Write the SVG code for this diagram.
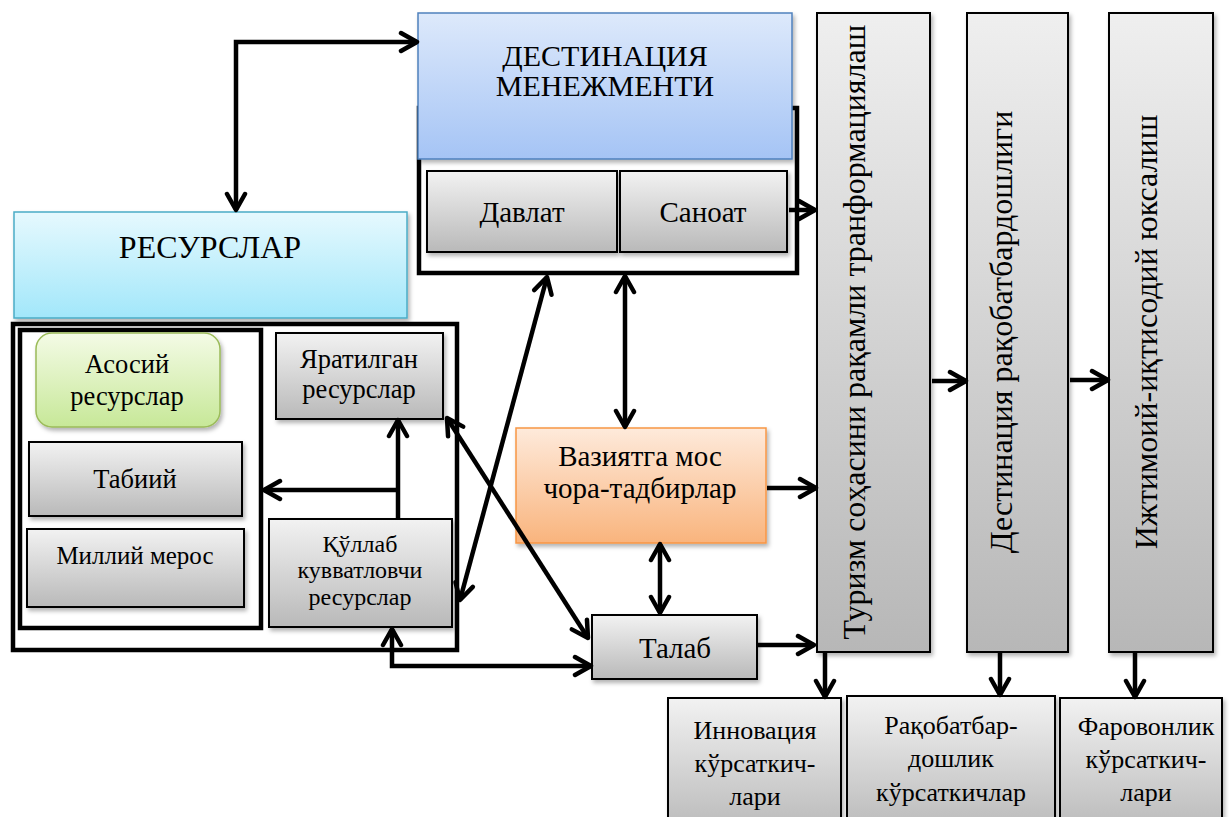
<svg xmlns="http://www.w3.org/2000/svg" width="1229" height="817" viewBox="0 0 1229 817" font-family="Liberation Serif, Times New Roman, serif">
<style>
text{font-family:'Liberation Serif','Times New Roman',Tinos,'DejaVu Serif','Noto Serif',serif;fill:#000;text-anchor:middle}
.gray{fill:url(#gGray);stroke:#000;stroke-width:2;filter:url(#sh)}
.tall{fill:url(#gTall);stroke:#000;stroke-width:2;filter:url(#sh)}
.frame{fill:none;stroke:#000;stroke-width:4.5}
.con{fill:none;stroke:#000;stroke-width:4.5;marker-end:url(#ah)}
.bi{marker-start:url(#ah)}
</style>
<defs>
<linearGradient id="gGray" x1="0" y1="0" x2="0" y2="1"><stop offset="0" stop-color="#f2f2f2"/><stop offset="1" stop-color="#b9b9b9"/></linearGradient>
<linearGradient id="gTall" x1="0" y1="0" x2="0" y2="1"><stop offset="0" stop-color="#efefef"/><stop offset="1" stop-color="#b7b7b7"/></linearGradient>
<linearGradient id="gBlue" x1="0" y1="0" x2="0" y2="1"><stop offset="0" stop-color="#dde9fb"/><stop offset="1" stop-color="#a5c4f5"/></linearGradient>
<linearGradient id="gCyan" x1="0" y1="0" x2="0" y2="1"><stop offset="0" stop-color="#e6f9fe"/><stop offset="1" stop-color="#a2e7fa"/></linearGradient>
<linearGradient id="gGreen" x1="0" y1="0" x2="0" y2="1"><stop offset="0" stop-color="#f4fbe6"/><stop offset="1" stop-color="#c7e898"/></linearGradient>
<linearGradient id="gOrange" x1="0" y1="0" x2="0" y2="1"><stop offset="0" stop-color="#feeadb"/><stop offset="1" stop-color="#f9b47d"/></linearGradient>
<filter id="sh" x="-10%" y="-10%" width="130%" height="130%"><feDropShadow dx="2" dy="3" stdDeviation="2" flood-color="#000" flood-opacity="0.3"/></filter>
<marker id="ah" markerUnits="userSpaceOnUse" viewBox="-20 -12 24 24" markerWidth="24" markerHeight="24" refX="0" refY="0" orient="auto-start-reverse">
<path d="M-16,-9 L0,0 L-16,9" fill="none" stroke="#000" stroke-width="4.5" stroke-linecap="round" stroke-linejoin="round"/>
</marker>
</defs>

<g id="dm-frame"><rect class="frame" x="419" y="108" width="378" height="165"/></g>
<g id="destination-management">
<rect x="418" y="13" width="374" height="146" fill="url(#gBlue)" stroke="#4f81bd" stroke-width="1.5" filter="url(#sh)"/>
<text x="605" y="66" font-size="30">ДЕСТИНАЦИЯ</text>
<text x="605" y="96" font-size="30">МЕНЕЖМЕНТИ</text>
</g>
<g id="davlat"><rect class="gray" x="427" y="171" width="190" height="81"/><text x="522" y="222" font-size="29">Давлат</text></g>
<g id="sanoat"><rect class="gray" x="620" y="171" width="167" height="81"/><text x="703" y="222" font-size="29">Саноат</text></g>

<g id="resources">
<rect x="14" y="212" width="393" height="106" fill="url(#gCyan)" stroke="#4bacc6" stroke-width="1.5" filter="url(#sh)"/>
<text x="210" y="258" font-size="32">РЕСУРСЛАР</text>
</g>
<g id="res-frames">
<rect class="frame" x="13" y="324" width="444" height="326"/>
<rect class="frame" x="20" y="330" width="241" height="298"/>
</g>
<g id="asosiy"><rect x="36" y="333" width="184" height="94" rx="16" fill="url(#gGreen)" stroke="#9bbb59" stroke-width="1.5" filter="url(#sh)"/><text x="127" y="373" font-size="26.5">Асосий</text><text x="127" y="405" font-size="26.5">ресурслар</text></g>
<g id="tabiiy"><rect class="gray" x="29" y="442" width="213" height="74"/><text x="135" y="488" font-size="26.5">Табиий</text></g>
<g id="milliy"><rect class="gray" x="27" y="529" width="217" height="78"/><text x="135" y="564" font-size="25">Миллий мерос</text></g>
<g id="yaratilgan"><rect class="gray" x="276" y="333" width="167" height="86"/><text x="359" y="368" font-size="26.5">Яратилган</text><text x="359" y="398" font-size="26.5">ресурслар</text></g>
<g id="qullab"><rect class="gray" x="269" y="519" width="183" height="108"/><text x="360" y="552" font-size="24">Қўллаб</text><text x="360" y="578" font-size="24">кувватловчи</text><text x="360" y="605" font-size="24">ресурслар</text></g>

<g id="vaziyat"><rect x="516" y="428" width="250" height="115" fill="url(#gOrange)" stroke="#f79646" stroke-width="1.5" filter="url(#sh)"/><text x="640" y="466" font-size="29">Вазиятга мос</text><text x="640" y="498" font-size="29">чора-тадбирлар</text></g>
<g id="talab"><rect class="gray" x="592" y="615" width="165" height="64"/><text x="675" y="658" font-size="29">Талаб</text></g>

<g id="tourism-digital"><rect class="tall" x="817" y="13" width="113" height="639"/><text transform="translate(865,332) rotate(-90)" font-size="32">Туризм соҳасини рақамли транформациялаш</text></g>
<g id="dest-competitiveness"><rect class="tall" x="967" y="13" width="101" height="639"/><text transform="translate(1012,332) rotate(-90)" font-size="32">Дестинация рақобатбардошлиги</text></g>
<g id="socio-economic"><rect class="tall" x="1109" y="13" width="104" height="639"/><text transform="translate(1157,332) rotate(-90)" font-size="32">Ижтимоий-иқтисодий юксалиш</text></g>

<g id="innovation"><rect class="gray" x="668" y="698" width="173" height="135"/><text x="755" y="739" font-size="26">Инновация</text><text x="755" y="772" font-size="26">кўрсаткич-</text><text x="755" y="805" font-size="26">лари</text></g>
<g id="competitiveness"><rect class="gray" x="847" y="696" width="208" height="137"/><text x="951" y="734" font-size="26">Рақобатбар-</text><text x="951" y="767" font-size="26">дошлик</text><text x="951" y="801" font-size="26">кўрсаткичлар</text></g>
<g id="welfare"><rect class="gray" x="1060" y="698" width="162" height="135"/><text x="1146" y="735" font-size="26">Фаровонлик</text><text x="1146" y="768" font-size="26">кўрсаткич-</text><text x="1146" y="801" font-size="26">лари</text></g>

<g id="connectors">
<path class="con bi" d="M236,210 V42 H417"/>
<path class="con" d="M789,210 H815"/>
<path class="con bi" d="M547,277 L460,600"/>
<path class="con bi" d="M625,276 V427"/>
<path class="con bi" d="M447,418 L588,638"/>
<path class="con" d="M767,488 H816"/>
<path class="con bi" d="M660,544 V613"/>
<path class="con" d="M757,645 H814"/>
<path class="con bi" d="M392,629 V666 H591"/>
<path class="con" d="M398,519 V420"/>
<path class="con" d="M398,490 H264"/>
<path class="con" d="M932,381 H966"/>
<path class="con" d="M1070,380 H1108"/>
<path class="con" d="M825,653 V697"/>
<path class="con" d="M1000,653 V695"/>
<path class="con" d="M1135,653 V697"/>
</g>
</svg>
